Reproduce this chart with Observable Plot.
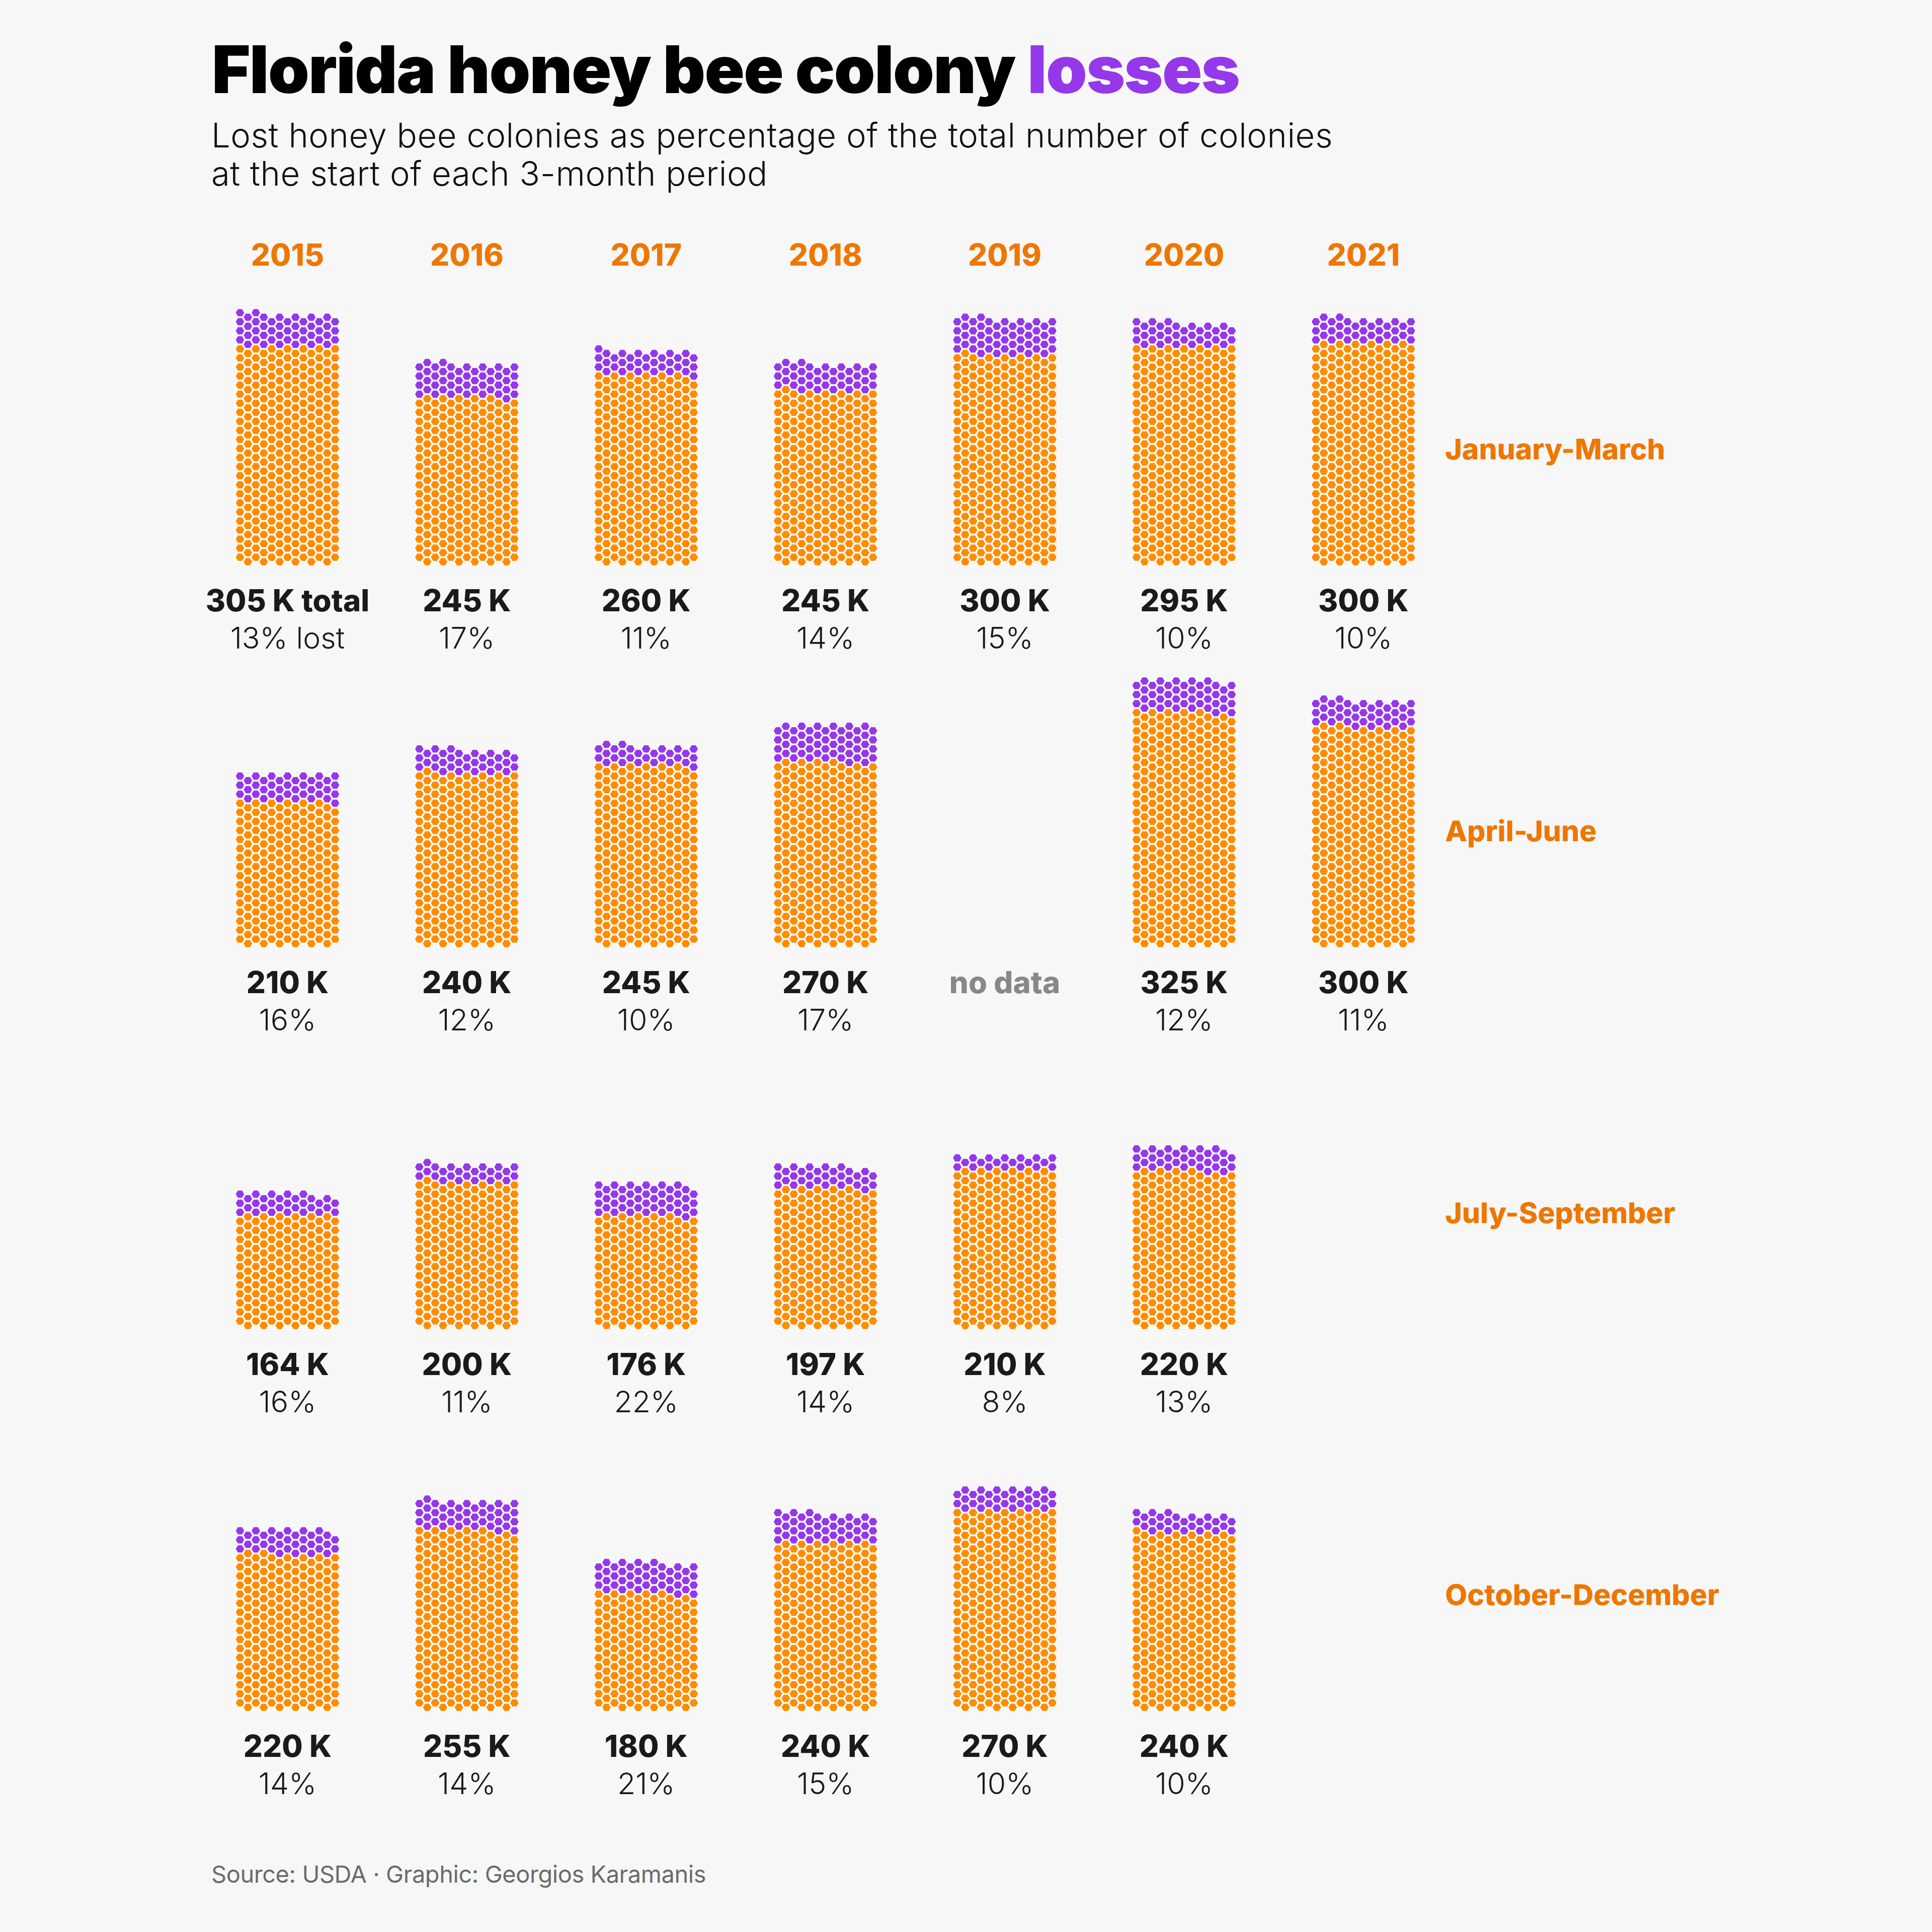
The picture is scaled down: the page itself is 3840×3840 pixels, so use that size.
<!DOCTYPE html>
<html><head><meta charset="utf-8">
<script src="https://cdn.jsdelivr.net/npm/d3@7"></script>
<script src="https://cdn.jsdelivr.net/npm/@observablehq/plot@0.6"></script>
<style>
html,body{margin:0;padding:0;background:#f7f7f7;}
#page{position:relative;width:3840px;height:3840px;background:#f7f7f7;font-family:Inter, sans-serif;overflow:hidden;}
#title{position:absolute;left:421px;top:72px;font-size:131px;line-height:1;font-weight:900;color:#000;white-space:nowrap;}
#subtitle{position:absolute;left:420px;top:231px;font-size:67px;line-height:76px;font-weight:300;color:#111;white-space:nowrap;}
#chart{position:absolute;left:0;top:400px;}
#caption{position:absolute;left:420px;top:3701px;font-size:47px;line-height:1;font-weight:400;color:#6b6b6b;white-space:nowrap;}
</style></head>
<body><div id="page">
<div id="title"><span id="t1">Florida honey bee colony <span style="color:#9438EA">losses</span></span></div>
<div id="subtitle"><span id="sub1">Lost honey bee colonies as percentage of the total number of colonies</span><br><span id="sub2">at the start of each 3-month period</span></div>
<div id="chart"></div>
<div id="caption"><span id="cap1">Source: USDA · Graphic: Georgios Karamanis</span></div>
</div>
<script>
// ---- data ----
const years = ["2015", "2016", "2017", "2018", "2019", "2020", "2021"];
const quarters = ["January-March", "April-June", "July-September", "October-December"];
// total colonies at start of period (thousands)
const totalsJanMar = [305, 245, 260, 245, 300, 295, 300];
const totalsAprJun = [210, 240, 245, 270, null, 325, 300];
const totalsJulSep = [164, 200, 176, 197, 210, 220, null];
const totalsOctDec = [220, 255, 180, 240, 270, 240, null];
// percentage lost
const lostJanMar = [13, 17, 11, 14, 15, 10, 10];
const lostAprJun = [16, 12, 10, 17, null, 12, 11];
const lostJulSep = [16, 11, 22, 14, 8, 13, null];
const lostOctDec = [14, 14, 21, 15, 10, 10, null];
const noDataCells = [{year: "2019", quarter: "April-June"}];
const colonyPerDot = 850;

// ---- styles ----
const orange = "#FF8C00", purple = "#9438EA", labelOrange = "#EE7700", dark = "#1a1a1a";

// ---- fit header text widths ----
function fit(el, target) {
  const w = el.getBoundingClientRect().width;
  const n = el.textContent.length;
  return (target - w) / n;
}
const t1 = document.getElementById("t1");
document.getElementById("title").style.letterSpacing = fit(t1, 2042) + "px";
const s1 = document.getElementById("sub1");
document.getElementById("subtitle").style.letterSpacing = fit(s1, 2229) + "px";
const c1 = document.getElementById("cap1");
document.getElementById("caption").style.letterSpacing = fit(c1, 983) + "px";

// ---- build tables ----
const rowSets = [
  {quarter: quarters[0], totals: totalsJanMar, lost: lostJanMar},
  {quarter: quarters[1], totals: totalsAprJun, lost: lostAprJun},
  {quarter: quarters[2], totals: totalsJulSep, lost: lostJulSep},
  {quarter: quarters[3], totals: totalsOctDec, lost: lostOctDec}
];
const cells = [];
rowSets.forEach((r, qi) => years.forEach((y, yi) => {
  if (r.totals[yi] != null) cells.push({year: y, quarter: r.quarter, total: r.totals[yi], pct: r.lost[yi], first: qi === 0 && yi === 0});
}));
const dots = cells.flatMap(c => {
  const n = Math.round(c.total * 1000 / colonyPerDot);
  const nLost = Math.round(n * c.pct / 100);
  return d3.range(n).map(i => {
    const pair = Math.floor(i / 13), j = i % 13;
    const half = j < 6 ? 2 * pair : 2 * pair + 1;
    const col = j < 6 ? 2 * j + 1 : 2 * (j - 6);
    return {year: c.year, quarter: c.quarter, col, half, status: i >= n - nLost ? "lost" : "kept"};
  });
});

// flat-top hexagon symbol
const flatHex = {
  draw(ctx, size) {
    const r = Math.sqrt(size / Math.PI);
    for (let k = 0; k < 6; k++) {
      const a = k * Math.PI / 3;
      const x = r * Math.cos(a), y = r * Math.sin(a);
      if (k) ctx.lineTo(x, y); else ctx.moveTo(x, y);
    }
    ctx.closePath();
  }
};

const colStep = 356.4, cellW = 204.75, rowStep = 759, cellH = 444;
const mL = 468.6, W = 3840;
const mR = W - mL - (6 * colStep + cellW);
const mT = 272, H = 3193;
const mB = H - mT - (3 * rowStep + cellH);

const chart = Plot.plot({
  width: W, height: H,
  marginLeft: mL, marginRight: mR, marginTop: mT, marginBottom: mB,
  style: {background: "transparent", fontFamily: "Inter, sans-serif", overflow: "visible"},
  fx: {domain: years, paddingInner: 1 - cellW / colStep, paddingOuter: 0, round: false, label: null},
  fy: {domain: quarters, paddingInner: 1 - cellH / rowStep, paddingOuter: 0, round: false, label: null},
  x: {domain: [-0.5, 12.5], axis: null},
  y: {domain: [0, cellH / 9], axis: null},
  color: {domain: ["kept", "lost"], range: [orange, purple]},
  marks: [
    Plot.dot(dots, {fx: "year", fy: "quarter", x: "col", y: "half", fill: "status", symbol: flatHex, r: 9.6, stroke: "white", strokeWidth: 2}),
    Plot.text(cells, {fx: "year", fy: "quarter", frameAnchor: "bottom", lineAnchor: "bottom", dy: 98,
      text: d => d.first ? `${d.total} K total` : `${d.total} K`, fontSize: 60, fontWeight: 800, fill: dark}),
    Plot.text(cells, {fx: "year", fy: "quarter", frameAnchor: "bottom", lineAnchor: "bottom", dy: 172,
      text: d => d.first ? `${d.pct}% lost` : `${d.pct}%`, fontSize: 59, fontWeight: 300, fill: dark}),
    Plot.text(noDataCells, {fx: "year", fy: "quarter", frameAnchor: "bottom", lineAnchor: "bottom", dy: 98,
      text: () => "no data", fontSize: 60, fontWeight: 800, fill: "#888888"}),
    Plot.axisFx({anchor: "top", tickSize: 0, tickPadding: 145, fontSize: 60, fontWeight: 800, color: labelOrange, label: null}),
    Plot.axisFy({anchor: "right", tickSize: 0, tickPadding: 60, fontSize: 57, fontWeight: 800, color: labelOrange, label: null, textAnchor: "start"})
  ]
});
document.getElementById("chart").appendChild(chart);
</script>
</body></html>
